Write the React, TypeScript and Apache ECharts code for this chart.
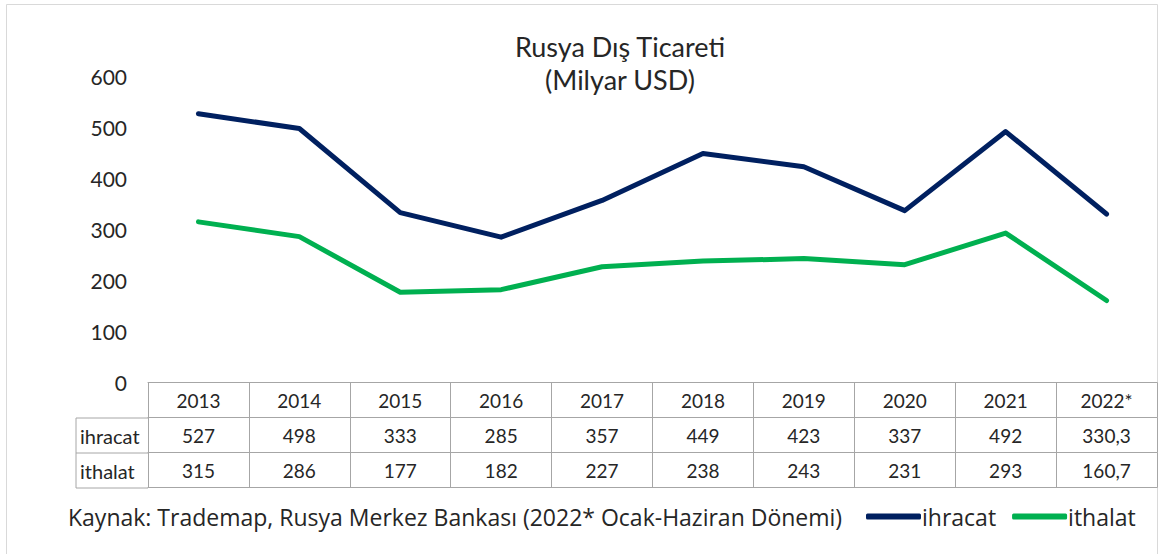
import React, { useEffect, useRef } from "react";
import * as echarts from "echarts";

const years = ["2013", "2014", "2015", "2016", "2017", "2018", "2019", "2020", "2021", "2022*"];
const ihracat = [527, 498, 333, 285, 357, 449, 423, 337, 492, 330.3];
const ithalat = [315, 286, 177, 182, 227, 238, 243, 231, 293, 160.7];
const yTicks = [0, 100, 200, 300, 400, 500, 600];
const titleText = "Rusya Dış Ticareti\n(Milyar USD)";
const sourceText = "Kaynak: Trademap, Rusya Merkez Bankası (2022* Ocak-Haziran Dönemi)";
const seriesNames = ["ihracat", "ithalat"];

const FONT = "Lato, 'Noto Sans', sans-serif";
const FONT2 = "'Open Sans', 'Noto Sans', sans-serif";
const TEXT = "#262626";
const BORDER = "#a6a6a6";
const fmt = (v: number) => String(v).replace(".", ",");

export default function App() {
  const ref = useRef<HTMLDivElement>(null);
  useEffect(() => {
    if (!ref.current) return;
    const chart = echarts.init(ref.current, undefined, { renderer: "svg" });
    const tableAxis = (labels: string[], offset: number, showTick: boolean, showLabel: boolean) => ({
      type: "category",
      gridIndex: 0,
      position: "bottom",
      offset,
      data: labels,
      boundaryGap: true,
      axisLine: { show: true, lineStyle: { color: BORDER, width: 1 } },
      axisTick: { show: showTick, length: 35, interval: 0, lineStyle: { color: BORDER, width: 1 } },
      axisLabel: {
        show: showLabel,
        interval: 0,
        margin: 8,
        fontSize: 19,
        color: TEXT,
        fontFamily: FONT,
        lineHeight: 19,
      },
      splitLine: { show: false },
    });
    chart.setOption({
      animation: false,
      textStyle: { fontFamily: FONT },
      title: {
        text: titleText,
        left: 620,
        top: 30,
        padding: 0,
        textAlign: "center",
        textStyle: { fontSize: 27, fontWeight: "normal", color: TEXT, fontFamily: FONT, lineHeight: 33 },
      },
      legend: {
        left: 866,
        top: 505,
        padding: 0,
        itemWidth: 55,
        itemHeight: 6,
        itemGap: 16,
        icon: "roundRect",
        data: seriesNames,
        textStyle: { fontSize: 23, color: TEXT, fontFamily: FONT2, padding: [0, 0, 0, -4] },
      },
      grid: { left: 148, right: 8, top: 76.5, bottom: 171.5 },
      xAxis: [
        tableAxis(years, 0, true, true),
        tableAxis(ihracat.map(fmt), 35, true, true),
        tableAxis(ithalat.map(fmt), 70, true, true),
        tableAxis(years.map(() => ""), 105, false, false),
      ],
      yAxis: {
        type: "value",
        min: yTicks[0],
        max: yTicks[yTicks.length - 1],
        interval: 100,
        axisLine: { show: false },
        axisTick: { show: false },
        splitLine: { show: false },
        axisLabel: { margin: 21, fontSize: 21, color: TEXT, fontFamily: FONT },
      },
      series: [
        {
          name: seriesNames[0],
          type: "line",
          xAxisIndex: 0,
          data: ihracat,
          symbol: "none",
          color: "#002060",
          lineStyle: { width: 5, color: "#002060", join: "round", cap: "round" },
        },
        {
          name: seriesNames[1],
          type: "line",
          xAxisIndex: 0,
          data: ithalat,
          symbol: "none",
          color: "#00B050",
          lineStyle: { width: 5, color: "#00B050", join: "round", cap: "round" },
        },
      ],
      graphic: [
        {
          type: "rect",
          z: -10,
          shape: { x: 6.5, y: 4.5, width: 1151, height: 600 },
          style: { fill: "none", stroke: "#d9d9d9", lineWidth: 1 },
          silent: true,
        },
        { type: "line", shape: { x1: 76, y1: 418, x2: 148, y2: 418 }, style: { stroke: BORDER, lineWidth: 1 } },
        { type: "line", shape: { x1: 76, y1: 453, x2: 148, y2: 453 }, style: { stroke: BORDER, lineWidth: 1 } },
        { type: "line", shape: { x1: 76, y1: 488, x2: 148, y2: 488 }, style: { stroke: BORDER, lineWidth: 1 } },
        { type: "line", shape: { x1: 76, y1: 418, x2: 76, y2: 488 }, style: { stroke: BORDER, lineWidth: 1 } },
        {
          type: "text",
          x: 80,
          y: 435.5,
          style: { text: seriesNames[0], fontSize: 20, fill: TEXT, fontFamily: FONT, verticalAlign: "middle" },
        },
        {
          type: "text",
          x: 80,
          y: 470.5,
          style: { text: seriesNames[1], fontSize: 20, fill: TEXT, fontFamily: FONT, verticalAlign: "middle" },
        },
        {
          type: "text",
          x: 68,
          y: 517,
          style: { text: sourceText, fontSize: 23, fill: TEXT, fontFamily: FONT2, verticalAlign: "middle" },
        },
      ],
    });
    return () => chart.dispose();
  }, []);
  return (
    <div
      ref={ref}
      style={{ position: "fixed", left: 0, top: 0, width: 1165, height: 554, background: "#fff" }}
    />
  );
}
